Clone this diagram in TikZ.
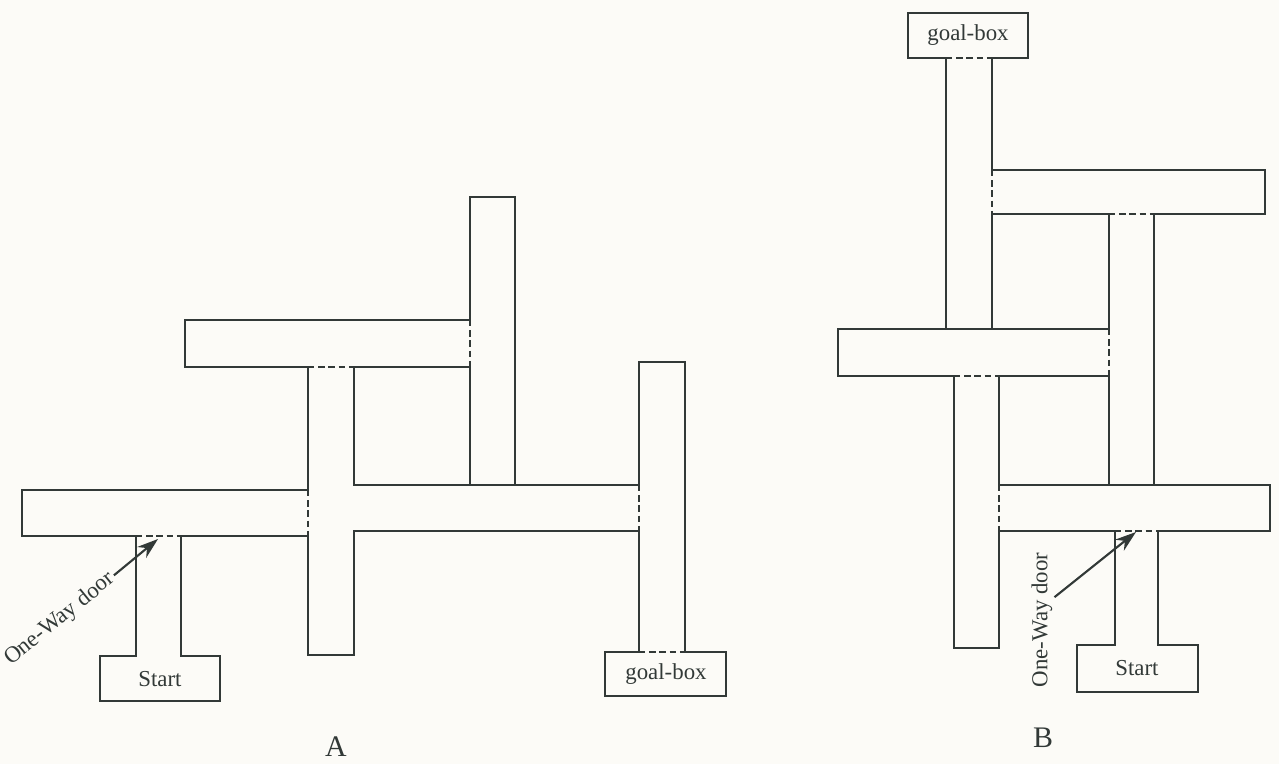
\documentclass[tikz,border=0pt]{standalone}
\usepackage{fontspec}
\setmainfont{Liberation Serif}
\usetikzlibrary{arrows.meta}
\definecolor{ink}{RGB}{50,57,55}
\definecolor{paper}{RGB}{252,251,247}
\tikzset{
  wall/.style={draw=ink, line width=1.05pt, line join=miter},
  door/.style={draw=ink, line width=1.2pt, dash pattern=on 3.6pt off 2.2pt},
  lbl/.style={text=ink, inner sep=1pt, font=\fontsize{13}{15}\selectfont},
  big/.style={text=ink, inner sep=1pt, font=\fontsize{17}{19}\selectfont},
  arr/.style={draw=ink, line width=1.2pt, -{Stealth[length=12pt,width=8pt]}}
}
\begin{document}
\begin{tikzpicture}[x=0.02cm, y=-0.02cm]
\fill[paper] (0,0) rectangle (1279,764);
\useasboundingbox (0,0) rectangle (1279,764);
% ---------- Maze A ----------
\draw[wall] (308,490) -- (22,490) -- (22,536) -- (136,536) -- (136,656) -- (100,656) -- (100,701) -- (220,701) -- (220,656) -- (181,656) -- (181,536) -- (308,536) -- (308,655) -- (354,655) -- (354,531) -- (639,531) -- (639,652) -- (605,652) -- (605,696) -- (726,696) -- (726,652) -- (685,652) -- (685,362) -- (639,362) -- (639,485) -- (354,485) -- (354,367) -- (470,367) -- (470,485);
\draw[wall] (308,490) -- (308,367) -- (185,367) -- (185,320) -- (470,320) -- (470,197) -- (515,197) -- (515,485);
\draw[door] (136,536) -- (181,536);
\draw[door] (308,490) -- (308,536);
\draw[door] (308,367) -- (354,367);
\draw[door] (470,320) -- (470,367);
\draw[door] (639,485) -- (639,531);
\draw[door] (639,652) -- (685,652);
\node[lbl] (startA) at (160,679) {Start};
\node[lbl] (goalA) at (666,674) {goal-box};
\node[lbl, rotate=39] (doorA) at (60,619) {One-Way door};
\coordinate (dA) at (158,539);
\draw[arr] (doorA.east) -- (dA);
\node[big] (labA) at (336,747) {A};
% ---------- Maze B ----------
\draw[wall] (1154,485) -- (1154,214) -- (1265,214) -- (1265,170) -- (992,170) -- (992,58) -- (1028,58) -- (1028,13) -- (908,13) -- (908,58) -- (946,58) -- (946,329) -- (838,329) -- (838,376) -- (954,376) -- (954,648) -- (999,648) -- (999,531) -- (1115,531) -- (1115,645) -- (1077,645) -- (1077,692) -- (1198,692) -- (1198,645) -- (1158,645) -- (1158,531) -- (1270,531) -- (1270,485) -- (999,485) -- (999,376) -- (1109,376) -- (1109,485);
\draw[wall] (946,329) -- (1109,329) -- (1109,214) -- (992,214) -- (992,329);
\draw[door] (946,58) -- (992,58);
\draw[door] (992,170) -- (992,214);
\draw[door] (1109,214) -- (1154,214);
\draw[door] (1109,329) -- (1109,376);
\draw[door] (954,376) -- (999,376);
\draw[door] (999,485) -- (999,531);
\draw[door] (1115,531) -- (1158,531);
\node[lbl] (goalB) at (968,35) {goal-box};
\node[lbl] (startB) at (1137,668) {Start};
\node[lbl, rotate=90] (doorB) at (1042,620) {One-Way door};
\coordinate (dB) at (1136,532);
\draw[arr] ([yshift=13pt]doorB.south) -- (dB);
\node[big] (labB) at (1043,738) {B};
\end{tikzpicture}
\end{document}
